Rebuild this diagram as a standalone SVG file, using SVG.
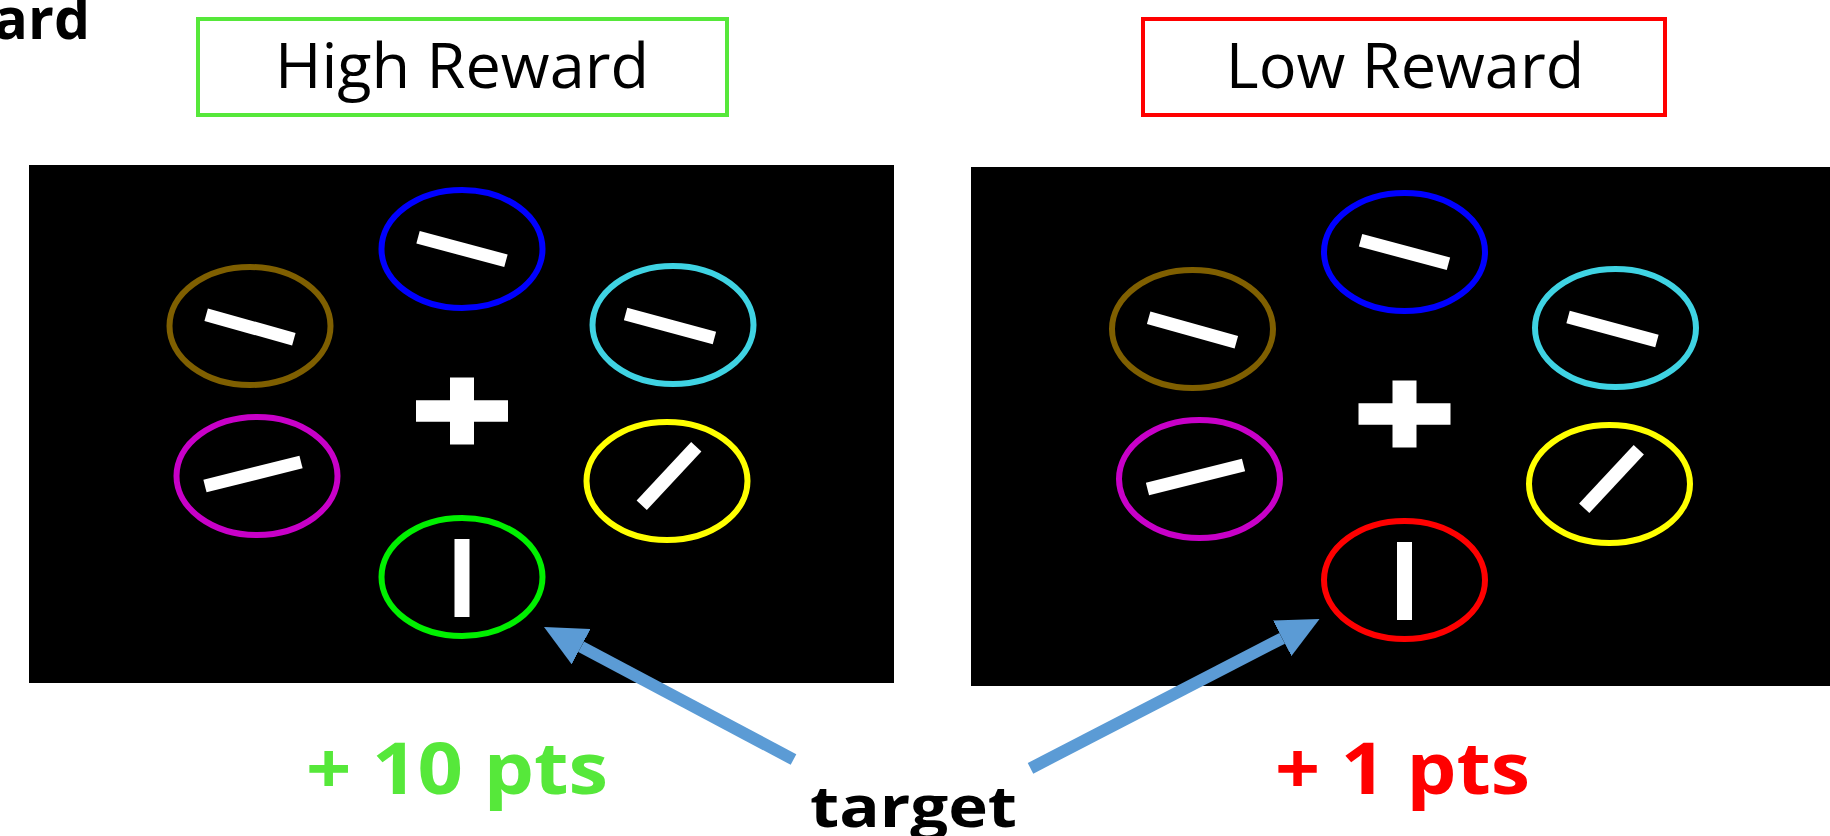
<svg xmlns="http://www.w3.org/2000/svg" width="1830" height="836" viewBox="0 0 1830 836">
  <style>
    .sans { font-family: "Open Sans", "Liberation Sans", sans-serif; }
    .heading { font-size: 63px; font-weight: 500; text-anchor: middle; fill: #000; }
    .bold { font-weight: 700; }
    .box { fill: #fff; stroke-width: 4; }
    .screen { fill: #000; }
    .ring { fill: none; stroke-width: 6; }
    .bar, .fix { fill: #fff; }
    .pts { font-size: 72px; }
    .conn { stroke: #5b9bd5; stroke-width: 12; fill: none; stroke-linecap: butt; }
  </style>
  <defs>
    <marker id="arrowhead" markerUnits="userSpaceOnUse" viewBox="0 0 42 40" markerWidth="42" markerHeight="40" refX="0" refY="20" orient="auto">
      <path d="M0,0 L42,20 L0,40 Z" fill="#5b9bd5"/>
    </marker>
    <!-- fixation cross, centred on the origin -->
    <path id="cross" class="fix" d="M-12,-33.5 H12 V-10.75 H46 V10.75 H12 V33.5 H-12 V10.75 H-46 V-10.75 H-12 Z"/>
  </defs>

  <rect width="1830" height="836" fill="#fff"/>

  <!-- clipped panel title -->
  <text class="sans bold" x="90" y="39" font-size="57" text-anchor="end" fill="#000">ard</text>

  <!-- condition headings -->
  <g id="high-reward-label">
    <rect class="box" x="198" y="19" width="529" height="96" stroke="#56e83a"/>
    <text class="sans heading" x="462" y="88">High Reward</text>
  </g>
  <g id="low-reward-label">
    <rect class="box" x="1143" y="19" width="522" height="96" stroke="#ff0000"/>
    <text class="sans heading" x="1405" y="88">Low Reward</text>
  </g>

  <!-- high reward search display -->
  <g id="high-reward-display">
    <rect class="screen" x="29" y="165" width="865" height="518"/>
    <g id="high-blue">
      <ellipse class="ring" cx="462" cy="249" rx="80.5" ry="59" stroke="#0000ff"/>
      <rect class="bar" x="-45.5" y="-6.5" width="91" height="13" transform="translate(462 249) rotate(15)"/>
    </g>
    <g id="high-brown">
      <ellipse class="ring" cx="250" cy="326" rx="80.5" ry="59" stroke="#7f5f00"/>
      <rect class="bar" x="-45.5" y="-6.5" width="91" height="13" transform="translate(250 327) rotate(15.5)"/>
    </g>
    <g id="high-cyan">
      <ellipse class="ring" cx="673" cy="325" rx="80.5" ry="59" stroke="#3fd3e3"/>
      <rect class="bar" x="-46" y="-6.5" width="92" height="13" transform="translate(670 326) rotate(15)"/>
    </g>
    <g id="high-magenta">
      <ellipse class="ring" cx="257" cy="476" rx="80.5" ry="59" stroke="#c800c8"/>
      <rect class="bar" x="-49.5" y="-6.5" width="99" height="13" transform="translate(253 474) rotate(-14)"/>
    </g>
    <g id="high-yellow">
      <ellipse class="ring" cx="667" cy="481" rx="80.5" ry="59" stroke="#ffff00"/>
      <rect class="bar" x="-40" y="-7" width="80" height="14" transform="translate(669 476) rotate(-47)"/>
    </g>
    <g id="high-target">
      <ellipse class="ring" cx="462" cy="577" rx="80.5" ry="59" stroke="#00f000"/>
      <rect class="bar" x="454.5" y="539" width="15" height="78"/>
    </g>
    <use href="#cross" x="462" y="411"/>
  </g>

  <!-- low reward search display -->
  <g id="low-reward-display">
    <rect class="screen" x="971" y="167" width="859" height="519"/>
    <g transform="translate(942.5 3)">
      <g id="low-blue">
        <ellipse class="ring" cx="462" cy="249" rx="80.5" ry="59" stroke="#0000ff"/>
        <rect class="bar" x="-45.5" y="-6.5" width="91" height="13" transform="translate(462 249) rotate(15)"/>
      </g>
      <g id="low-brown">
        <ellipse class="ring" cx="250" cy="326" rx="80.5" ry="59" stroke="#7f5f00"/>
        <rect class="bar" x="-45.5" y="-6.5" width="91" height="13" transform="translate(250 327) rotate(15.5)"/>
      </g>
      <g id="low-cyan">
        <ellipse class="ring" cx="673" cy="325" rx="80.5" ry="59" stroke="#3fd3e3"/>
        <rect class="bar" x="-46" y="-6.5" width="92" height="13" transform="translate(670 326) rotate(15)"/>
      </g>
      <g id="low-magenta">
        <ellipse class="ring" cx="257" cy="476" rx="80.5" ry="59" stroke="#c800c8"/>
        <rect class="bar" x="-49.5" y="-6.5" width="99" height="13" transform="translate(253 474) rotate(-14)"/>
      </g>
      <g id="low-yellow">
        <ellipse class="ring" cx="667" cy="481" rx="80.5" ry="59" stroke="#ffff00"/>
        <rect class="bar" x="-40" y="-7" width="80" height="14" transform="translate(669 476) rotate(-47)"/>
      </g>
      <g id="low-target">
        <ellipse class="ring" cx="462" cy="577" rx="80.5" ry="59" stroke="#ff0000"/>
        <rect class="bar" x="454.5" y="539" width="15" height="78"/>
      </g>
      <use href="#cross" x="462" y="411"/>
    </g>
  </g>

  <!-- point values -->
  <g id="high-points">
    <text class="sans bold pts" x="306" y="794" fill="#56e83a" textLength="302" lengthAdjust="spacingAndGlyphs">+ 10 pts</text>
  </g>
  <g id="low-points">
    <text class="sans bold pts" x="1275" y="794" fill="#ff0000" textLength="255" lengthAdjust="spacingAndGlyphs">+ 1 pts</text>
  </g>

  <!-- target label -->
  <g id="target-label">
    <text class="sans bold" x="810" y="827" font-size="58" fill="#000" textLength="207" lengthAdjust="spacingAndGlyphs">target</text>
  </g>

  <!-- arrows from the label to each target item -->
  <g id="connectors">
    <line class="conn" x1="793.5" y1="759.5" x2="581.1" y2="646.7" marker-end="url(#arrowhead)"/>
    <line class="conn" x1="1030.5" y1="768.3" x2="1282.2" y2="638.3" marker-end="url(#arrowhead)"/>
  </g>
</svg>
